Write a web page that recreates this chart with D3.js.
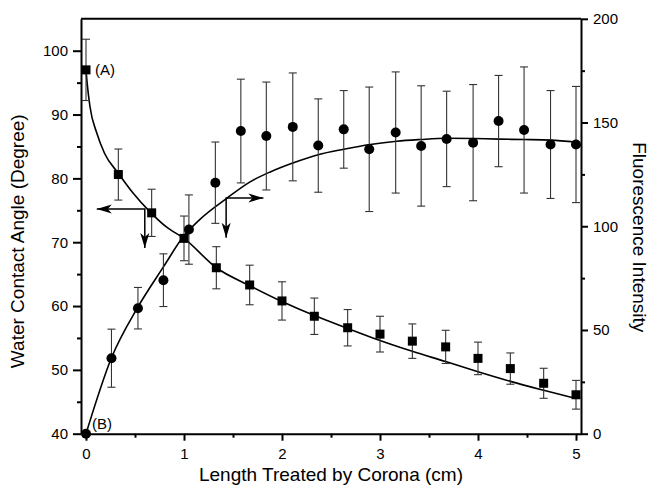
<!DOCTYPE html>
<html>
<head>
<meta charset="utf-8">
<script src="https://cdn.jsdelivr.net/npm/d3@7"></script>
<style>
  body { margin: 0; background: #fff; }
  text { font-family: "Liberation Sans", Arial, sans-serif; fill: #000; }
</style>
</head>
<body>
<div id="chart"></div>
<script>
// contact angle (squares, left axis)
const angleX = [0, 0.33, 0.67, 1, 1.33, 1.67, 2, 2.33, 2.67, 3, 3.33, 3.67, 4, 4.33, 4.67, 5];
const angle = [97, 80.6, 74.6, 70.6, 66.0, 63.3, 60.8, 58.4, 56.6, 55.6, 54.5, 53.6, 51.8, 50.2, 47.9, 46.1];
const angleErr = [4.8, 4.0, 3.7, 3.5, 3.3, 3.1, 3.0, 2.85, 2.85, 2.8, 2.7, 2.6, 2.55, 2.45, 2.35, 2.25];

// fluorescence (circles, right axis)
const fluorX = [0, 0.26, 0.53, 0.79, 1.05, 1.32, 1.58, 1.84, 2.11, 2.37, 2.63, 2.89, 3.16, 3.42, 3.68, 3.95, 4.21, 4.47, 4.74, 5];
const fluor = [0, 36.4, 60.5, 74.0, 98.4, 121, 145.9, 143.5, 147.9, 138.9, 146.7, 137.1, 145.2, 138.7, 142.1, 140.3, 150.7, 146.4, 139.4, 139.4];
const fluorErr = [0, 14, 10, 12.7, 16.7, 19.6, 25, 26, 26, 22.5, 18.7, 30, 29.2, 29, 23, 28, 22, 30.4, 26, 28];

// fitted curves
const fitAX = [0, 0.01, 0.04, 0.11, 0.19, 0.33, 0.48, 0.65, 0.82, 1.0, 1.33, 1.67, 2, 2.33, 2.67, 3, 3.33, 3.67, 4, 4.33, 4.67, 5];
const fitAY = [97, 95.2, 91.3, 87.1, 83.9, 80.8, 77.7, 74.8, 72.4, 70.6, 66.0, 63.2, 60.7, 58.5, 56.5, 54.6, 52.9, 51.3, 49.7, 48.2, 46.8, 45.5];
const fitBX = [0, 0.26, 0.52, 0.79, 0.99, 1.16, 1.44, 1.67, 1.88, 2.11, 2.37, 2.63, 2.9, 3.17, 3.41, 3.68, 3.95, 4.21, 4.47, 4.74, 5];
const fitBY = [0, 36.6, 60.3, 80.4, 94.8, 103.2, 113.6, 121.3, 126.2, 130.5, 134.5, 137.1, 139.4, 141, 141.8, 142.4, 142.3, 142, 141.8, 141.5, 140.6];

const xTicks = [0, 1, 2, 3, 4, 5];
const leftTicks = [40, 50, 60, 70, 80, 90, 100];
const rightTicks = [0, 50, 100, 150, 200];

const W = 651, H = 488;
const plotL = 81, plotR = 581, plotT = 18.8, plotB = 433.7;

const svg = d3.select('#chart')
    .append('svg')
    .attr('width', W)
    .attr('height', H);

const x = d3.scaleLinear().domain([-0.051, 5.051]).range([plotL, plotR]);
const yL = d3.scaleLinear().domain([40, 105]).range([plotB, plotT]);
const yR = d3.scaleLinear().domain([0, 200]).range([plotB, plotT]);

function styleAxis(g) {
    g.select('.domain').attr('stroke', '#000').attr('stroke-width', 2);
    g.selectAll('.tick line').attr('stroke', '#000').attr('stroke-width', 2);
    g.selectAll('.tick text').style('font-size', '15px').attr('fill', '#000');
}

// minor ticks
svg.append('g')
    .attr('transform', `translate(0,${plotB})`)
    .call(d3.axisBottom(x).tickValues([0.5, 1.5, 2.5, 3.5, 4.5]).tickSize(4).tickFormat('').tickSizeOuter(0))
    .call(g => { styleAxis(g); g.select('.domain').remove(); });
svg.append('g')
    .attr('transform', `translate(${plotL},0)`)
    .call(d3.axisLeft(yL).tickValues([45, 55, 65, 75, 85, 95]).tickSize(4).tickFormat('').tickSizeOuter(0))
    .call(g => { styleAxis(g); g.select('.domain').remove(); });
svg.append('g')
    .attr('transform', `translate(${plotR},0)`)
    .call(d3.axisRight(yR).tickValues([25, 75, 125, 175]).tickSize(4).tickFormat('').tickSizeOuter(0))
    .call(g => { styleAxis(g); g.select('.domain').remove(); });

// major axes
svg.append('g')
    .attr('transform', `translate(0,${plotB})`)
    .call(d3.axisBottom(x).tickValues(xTicks).tickSize(7).tickPadding(8).tickSizeOuter(0).tickFormat(d3.format('d')))
    .call(styleAxis);
svg.append('g')
    .attr('transform', `translate(${plotL},0)`)
    .call(d3.axisLeft(yL).tickValues(leftTicks).tickSize(8).tickPadding(5).tickSizeOuter(0))
    .call(styleAxis);
svg.append('g')
    .attr('transform', `translate(${plotR},0)`)
    .call(d3.axisRight(yR).tickValues(rightTicks).tickSize(7).tickPadding(5).tickSizeOuter(0))
    .call(styleAxis);

// top border
svg.append('line')
    .attr('x1', plotL).attr('x2', plotR)
    .attr('y1', plotT).attr('y2', plotT)
    .attr('stroke', '#000').attr('stroke-width', 2);

// axis titles
svg.append('text')
    .attr('transform', `translate(17,${(plotT + plotB) / 2 + 15}) rotate(-90)`)
    .attr('text-anchor', 'middle')
    .attr('dy', '0.35em')
    .style('font-size', '19px')
    .text('Water Contact Angle (Degree)');
svg.append('text')
    .attr('x', (plotL + plotR) / 2)
    .attr('y', 481)
    .attr('text-anchor', 'middle')
    .style('font-size', '19px')
    .text('Length Treated by Corona (cm)');
svg.append('text')
    .attr('transform', `translate(640,${(plotT + plotB) / 2 + 11}) rotate(90)`)
    .attr('text-anchor', 'middle')
    .attr('dy', '0.35em')
    .style('font-size', '19px')
    .text('Fluorescence Intensity');

// fitted lines
const lineA = d3.line().x(d => x(d[0])).y(d => yL(d[1])).curve(d3.curveMonotoneX);
const lineB = d3.line().x(d => x(d[0])).y(d => yR(d[1])).curve(d3.curveMonotoneX);

svg.append('path')
    .datum(fitAX.map((v, i) => [v, fitAY[i]]))
    .attr('fill', 'none')
    .attr('stroke', '#000')
    .attr('stroke-width', 1.6)
    .attr('d', lineA);
svg.append('path')
    .datum(fitBX.map((v, i) => [v, fitBY[i]]))
    .attr('fill', 'none')
    .attr('stroke', '#000')
    .attr('stroke-width', 1.6)
    .attr('d', lineB);

// error bars
function errorBars(xs, ys, errs, yScale) {
    const data = xs.map((v, i) => ({ x: v, y: ys[i], e: errs[i] })).filter(d => d.e > 0);
    const g = svg.append('g').attr('stroke', '#333').attr('stroke-width', 1.1);
    g.selectAll('.bar')
        .data(data)
        .enter()
        .append('line')
        .attr('x1', d => x(d.x)).attr('x2', d => x(d.x))
        .attr('y1', d => yScale(d.y - d.e)).attr('y2', d => yScale(d.y + d.e));
    g.selectAll('.capTop')
        .data(data)
        .enter()
        .append('line')
        .attr('x1', d => x(d.x) - 4).attr('x2', d => x(d.x) + 4)
        .attr('y1', d => yScale(d.y + d.e)).attr('y2', d => yScale(d.y + d.e));
    g.selectAll('.capBot')
        .data(data)
        .enter()
        .append('line')
        .attr('x1', d => x(d.x) - 4).attr('x2', d => x(d.x) + 4)
        .attr('y1', d => yScale(d.y - d.e)).attr('y2', d => yScale(d.y - d.e));
}
errorBars(angleX, angle, angleErr, yL);
errorBars(fluorX, fluor, fluorErr, yR);

// markers
svg.selectAll('.sq')
    .data(angleX.map((v, i) => ({ x: v, y: angle[i] })))
    .enter()
    .append('rect')
    .attr('class', 'sq')
    .attr('x', d => x(d.x) - 4.5)
    .attr('y', d => yL(d.y) - 4.5)
    .attr('width', 9)
    .attr('height', 9)
    .attr('fill', '#000');

svg.selectAll('.pt')
    .data(fluorX.map((v, i) => ({ x: v, y: fluor[i] })))
    .enter()
    .append('circle')
    .attr('class', 'pt')
    .attr('cx', d => x(d.x))
    .attr('cy', d => yR(d.y))
    .attr('r', 5)
    .attr('fill', '#000');

// series labels
svg.append('text')
    .attr('x', x(0) + 9).attr('y', yL(97))
    .attr('dy', '0.35em')
    .style('font-size', '15px')
    .text('(A)');
svg.append('text')
    .attr('x', x(0) + 6).attr('y', yR(0) - 10)
    .attr('dy', '0.35em')
    .style('font-size', '15px')
    .text('(B)');

// arrows pointing to the axis each curve belongs to
function arrowHead(tx, ty, dir) {
    // dir: 'left', 'right', 'down'
    const len = 15, half = 4.5, notch = 4;
    let pts;
    if (dir === 'left') pts = [[tx, ty], [tx + len, ty - half], [tx + len - notch, ty], [tx + len, ty + half]];
    if (dir === 'right') pts = [[tx, ty], [tx - len, ty - half], [tx - len + notch, ty], [tx - len, ty + half]];
    if (dir === 'down') pts = [[tx, ty], [tx - half, ty - len], [tx, ty - len + notch], [tx + half, ty - len]];
    svg.append('path')
        .attr('d', d3.line()(pts) + 'Z')
        .attr('fill', '#000');
}
function cornerArrow(cx, cy, hx, vy, hdir) {
    svg.append('path')
        .attr('d', `M${hx},${cy}L${cx},${cy}L${cx},${vy}`)
        .attr('fill', 'none')
        .attr('stroke', '#000')
        .attr('stroke-width', 1.5);
    arrowHead(hx, cy, hdir);
    arrowHead(cx, vy, 'down');
}
cornerArrow(x(0.60), yL(75.2), x(0.11), yL(69.1), 'left');
cornerArrow(x(1.43), yR(113.6), x(1.81), yR(94.4), 'right');
</script>
</body>
</html>
